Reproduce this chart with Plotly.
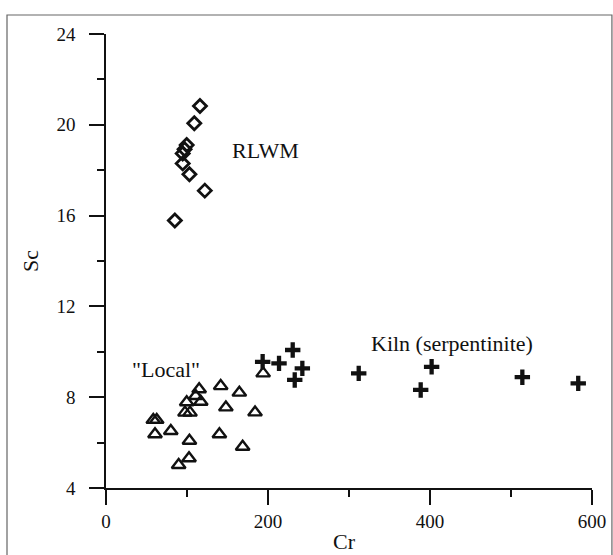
import plotly.graph_objects as go

# RLWM (diamonds)
rlwm_cr = [116, 109, 99.6, 97, 94.7, 94.7, 103, 122, 85]
rlwm_sc = [20.83, 20.07, 19.11, 18.92, 18.74, 18.30, 17.82, 17.10, 15.78]

# "Local" (triangles)
local_cr = [194, 115, 141.6, 164.6, 110.7, 117, 99.6, 148, 184, 97.5, 103.7,
            58.4, 62.6, 60.5, 80, 103, 140, 168.7, 102.5, 89.7]
local_sc = [9.05, 8.35, 8.49, 8.2, 8.05, 7.8, 7.78, 7.55, 7.33, 7.32, 7.32,
            7.0, 7.0, 6.37, 6.51, 6.08, 6.37, 5.82, 5.31, 5.01]

# Kiln (serpentinite) (crosses)
kiln_cr = [193.4, 213.6, 230.5, 242.4, 233, 312, 402, 388.5, 514, 583]
kiln_sc = [9.56, 9.49, 10.08, 9.27, 8.76, 9.05, 9.34, 8.32, 8.88, 8.61]

x_ticks = [0, 200, 400, 600]
y_ticks = [4, 8, 12, 16, 20, 24]

labels = ["RLWM", "Kiln (serpentinite)", "\"Local\""]
label_x = [197.5, 427, 74]
label_y = [18.85, 10.38, 9.2]

FONT = "Liberation Serif"
INK = "#111111"

fig = go.Figure()
fig.add_trace(go.Scatter(x=rlwm_cr, y=rlwm_sc, mode="markers", name="RLWM",
                         marker=dict(symbol="diamond-open", size=10, color=INK,
                                     line=dict(width=2.8, color=INK))))
fig.add_trace(go.Scatter(x=local_cr, y=local_sc, mode="markers", name="Local",
                         marker=dict(symbol="triangle-up-open", size=12, color=INK,
                                     line=dict(width=2.4, color=INK))))
fig.add_trace(go.Scatter(x=kiln_cr, y=kiln_sc, mode="markers", name="Kiln",
                         marker=dict(symbol="cross-thin-open", size=11, color=INK,
                                     line=dict(width=4.3, color=INK))))

for t, xx, yy in zip(labels, label_x, label_y):
    fig.add_annotation(x=xx, y=yy, xref="x", yref="y", text=t, showarrow=False,
                       font=dict(family=FONT, size=22, color=INK))

# x-axis title placed as paper annotation
fig.add_annotation(x=0.49, y=-0.117, xref="paper", yref="paper", text="Cr",
                   showarrow=False, yanchor="middle",
                   font=dict(family=FONT, size=22, color=INK))

# outer frame of the figure
fig.add_shape(type="rect", xref="paper", yref="paper",
              x0=-0.2037, x1=1.041, y0=-0.25, y1=1.0419,
              line=dict(color="#666666", width=1.2))

fig.update_xaxes(range=[0, 600], tickvals=x_ticks, showgrid=False, zeroline=False,
                 showline=True, linecolor=INK, linewidth=1.5, automargin=False,
                 ticks="outside", ticklen=15, tickwidth=1.5, tickcolor=INK,
                 minor=dict(ticks="outside", ticklen=7, tickwidth=1.5, tickcolor=INK, dtick=100),
                 tickfont=dict(family=FONT, size=19, color=INK))
fig.update_yaxes(range=[4, 24], tickvals=y_ticks, showgrid=False, zeroline=False,
                 showline=True, linecolor=INK, linewidth=1.5, automargin=False,
                 ticks="outside", ticklen=15, tickwidth=1.5, tickcolor=INK,
                 minor=dict(ticks="outside", ticklen=7, tickwidth=1.5, tickcolor=INK, dtick=2),
                 tickfont=dict(family=FONT, size=19, color=INK), ticklabelstandoff=10,
                 title=dict(text="Sc", font=dict(family=FONT, size=22, color=INK), standoff=12))

fig.update_layout(width=613, height=555, showlegend=False,
                  margin=dict(l=106, r=21, t=34, b=67, pad=0),
                  paper_bgcolor="white", plot_bgcolor="white")

fig.write_html("out.html")
